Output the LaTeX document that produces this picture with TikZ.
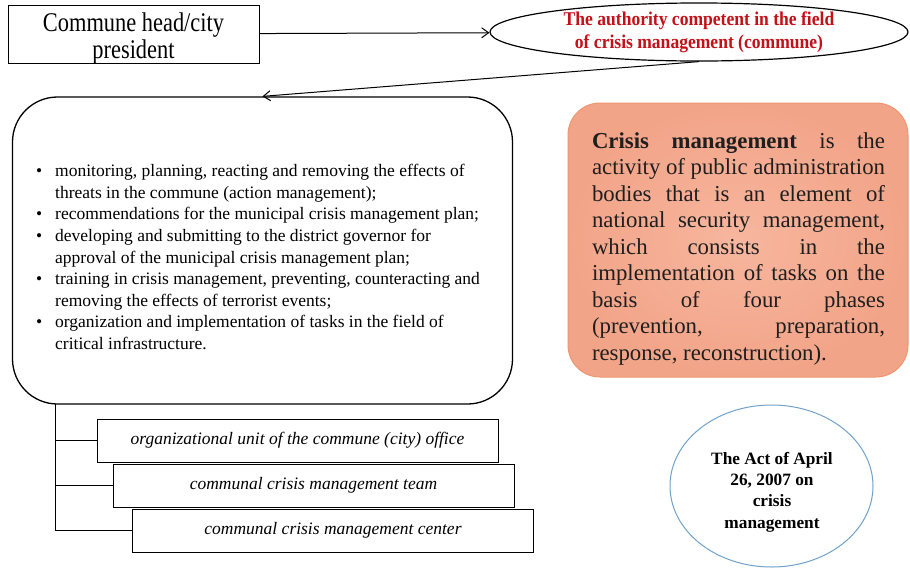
\documentclass[tikz,border=0pt]{standalone}
\usepackage{fontspec}
\setmainfont{Liberation Serif}
\newfontfamily\headserif[FakeStretch=0.83]{Liberation Serif}
\newfontfamily\authserif[FakeStretch=0.9]{Liberation Serif}
\usetikzlibrary{arrows.meta, positioning, shapes.geometric}
\usepackage{xcolor}
\definecolor{authred}{RGB}{196,16,24}
\definecolor{salmonin}{RGB}{247,182,158}
\definecolor{salmonout}{RGB}{242,164,136}
\definecolor{salmonline}{RGB}{238,150,112}
\definecolor{actblue}{RGB}{112,162,202}
\newcommand{\taskitem}{\makebox[19pt][l]{\textbullet}}
\newcommand{\taskgap}{\hspace*{19pt}}
\newcommand{\defline}[1]{\makebox[293pt][s]{#1}}

\begin{document}
\begin{tikzpicture}[
  x=1pt, y=-1pt,
  headbox/.style={draw, rectangle, line width=1pt, minimum width=251pt,
                  minimum height=58pt, inner sep=0pt},
  authority/.style={draw, ellipse, line width=1.2pt, minimum width=418pt,
                    minimum height=58pt, inner sep=0pt, align=center, text=authred,
                    font={\authserif\bfseries\fontsize{19.5}{23}\selectfont}},
  tasksbox/.style={draw, rectangle, rounded corners=45pt, line width=1.3pt,
                   minimum width=500pt, minimum height=307pt},
  unitbox/.style={draw, rectangle, line width=1pt, minimum width=401pt,
                  minimum height=43pt, inner sep=0pt,
                  font={\itshape\fontsize{17.5}{20}\selectfont}},
  defbox/.style={rectangle, rounded corners=32pt, draw=salmonline, line width=1pt,
                 inner color=salmonin, outer color=salmonout,
                 minimum width=340pt, minimum height=274pt},
  actbox/.style={draw=actblue, ellipse, line width=1pt, minimum width=203pt,
                 minimum height=162pt, inner sep=0pt},
  link/.style={line width=1pt, -{Straight Barb[length=7pt, width=10pt]}}
]
\useasboundingbox (0,0) rectangle (910,571);
\fill[white] (0,0) rectangle (910,571);

\node[headbox] (head) at (133.5,34) {};
\node[align=center, inner sep=0pt, font={\headserif\fontsize{27}{27}\selectfont}]
  (headtext) at (133.5,39) {Commune head/city\\president};

\node[authority] (authority) at (699,32)
  {The authority competent in the field\\of crisis management (commune)};

\node[tasksbox] (tasks) at (262.5,250.5) {};
\node[anchor=west, align=left, inner sep=0pt, font={\fontsize{17.5}{21.6}\selectfont}]
  (tasklist) at (36,257)
  {\taskitem monitoring, planning, reacting and removing the effects of\\
   \taskgap threats in the commune (action management);\\
   \taskitem recommendations for the municipal crisis management plan;\\
   \taskitem developing and submitting to the district governor for\\
   \taskgap approval of the municipal crisis management plan;\\
   \taskitem training in crisis management, preventing, counteracting and\\
   \taskgap removing the effects of terrorist events;\\
   \taskitem organization and implementation of tasks in the field of\\
   \taskgap critical infrastructure.};

\node[defbox] (crisisdef) at (738,240) {};
\node[align=left, inner sep=0pt, text=black!88, font={\fontsize{22.8}{26.5}\selectfont}]
  (crisistext) at (738.5,249)
  {\defline{\textbf{Crisis management} is the}\\
   \defline{activity of public administration}\\
   \defline{bodies that is an element of}\\
   \defline{national security management,}\\
   \defline{which consists in the}\\
   \defline{implementation of tasks on the}\\
   \defline{basis of four phases}\\
   \defline{(prevention, preparation,}\\
   response, reconstruction).};

\node[unitbox] (unit) at (297.5,440.5) {organizational unit of the commune (city) office};
\node[unitbox, below=1pt of unit, xshift=16pt] (team) {communal crisis management team};
\node[unitbox, below=1pt of team, xshift=19.5pt] (center) {communal crisis management center};

\node[actbox] (act) at (771.5,486) {};
\node[align=center, inner sep=0pt, font={\bfseries\fontsize{17.3}{21.3}\selectfont}]
  (acttext) at (772,492) {The Act of April\\26, 2007 on\\crisis\\management};

\draw[link] (head) -- (authority);
\draw[link] (authority.south) -- (tasks.north);

\coordinate (trunk) at (55,404);
\draw[line width=1pt] (trunk) |- (center.west);
\draw[line width=1pt] (unit.west -| trunk) -- (unit.west);
\draw[line width=1pt] (team.west -| trunk) -- (team.west);
\end{tikzpicture}
\end{document}
